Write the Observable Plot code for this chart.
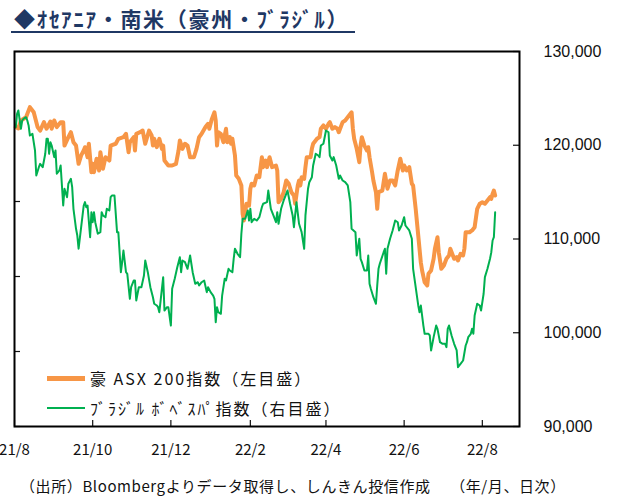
<!DOCTYPE html>
<html><head><meta charset="utf-8">
<script src="https://cdn.jsdelivr.net/npm/d3@7"></script>
<script src="https://cdn.jsdelivr.net/npm/@observablehq/plot@0.6"></script>
<style>
body{margin:0;background:#fff;width:623px;height:497px;position:relative;overflow:hidden;font-family:"Noto Sans CJK JP",sans-serif;}
#title{position:absolute;left:11px;top:5px;font-size:21px;font-weight:bold;color:#1f3864;border-bottom:2px solid #1f3864;padding-left:3px;padding-right:6px;line-height:26px;letter-spacing:1.7px;white-space:nowrap;}
#chart{position:absolute;left:0;top:35px;}
#legend{position:absolute;left:47px;top:363px;font-size:16px;color:#111;white-space:nowrap;letter-spacing:2px;}
.row{display:flex;align-items:center;height:30px;}
.sw{width:38px;margin-right:5px;}
#caption{position:absolute;left:20px;top:477px;font-size:15px;line-height:18px;color:#111;white-space:pre;letter-spacing:0.6px;}
</style>
</head><body>
<div id="title">◆ｵｾｱﾆｱ・南米（豪州・ﾌﾞﾗｼﾞﾙ）</div>
<div id="chart"></div>
<div id="legend">
  <div class="row"><div class="sw" style="border-top:5px solid #F79646"></div><span>豪&nbsp;ASX 200指数（左目盛）</span></div>
  <div class="row"><div class="sw" style="border-top:2px solid #00B050"></div><span>ﾌﾞﾗｼﾞﾙ&nbsp;ﾎﾞﾍﾞｽﾊﾟ指数（右目盛）</span></div>
</div>
<div id="caption">（出所）Bloombergよりデータ取得し、しんきん投信作成　 （年/月、日次）</div>
<script>
const asxDates = ["2021-08-02","2021-08-04","2021-08-06","2021-08-10","2021-08-13","2021-08-16","2021-08-19","2021-08-21","2021-08-24","2021-08-26","2021-08-29","2021-08-30","2021-09-01","2021-09-03","2021-09-06","2021-09-08","2021-09-09","2021-09-12","2021-09-14","2021-09-16","2021-09-18","2021-09-20","2021-09-22","2021-09-24","2021-09-25","2021-09-27","2021-09-28","2021-09-30","2021-10-01","2021-10-02","2021-10-04","2021-10-06","2021-10-07","2021-10-09","2021-10-11","2021-10-14","2021-10-15","2021-10-19","2021-10-21","2021-10-25","2021-10-27","2021-10-29","2021-10-30","2021-11-02","2021-11-03","2021-11-04","2021-11-07","2021-11-09","2021-11-11","2021-11-14","2021-11-16","2021-11-17","2021-11-18","2021-11-20","2021-11-22","2021-11-24","2021-11-25","2021-11-26","2021-11-29","2021-12-02","2021-12-05","2021-12-07","2021-12-08","2021-12-10","2021-12-12","2021-12-14","2021-12-16","2021-12-19","2021-12-21","2021-12-23","2021-12-25","2021-12-28","2021-12-30","2021-12-31","2022-01-02","2022-01-04","2022-01-05","2022-01-06","2022-01-07","2022-01-09","2022-01-11","2022-01-13","2022-01-14","2022-01-16","2022-01-17","2022-01-18","2022-01-20","2022-01-21","2022-01-23","2022-01-25","2022-01-26","2022-01-27","2022-01-29","2022-01-31","2022-02-01","2022-02-02","2022-02-04","2022-02-06","2022-02-08","2022-02-10","2022-02-11","2022-02-13","2022-02-14","2022-02-16","2022-02-18","2022-02-21","2022-02-22","2022-02-23","2022-02-25","2022-02-27","2022-03-01","2022-03-03","2022-03-05","2022-03-07","2022-03-08","2022-03-10","2022-03-11","2022-03-12","2022-03-13","2022-03-15","2022-03-16","2022-03-17","2022-03-20","2022-03-21","2022-03-22","2022-03-25","2022-03-27","2022-03-28","2022-03-30","2022-04-01","2022-04-03","2022-04-04","2022-04-06","2022-04-08","2022-04-10","2022-04-11","2022-04-14","2022-04-16","2022-04-19","2022-04-21","2022-04-22","2022-04-23","2022-04-25","2022-04-27","2022-04-28","2022-04-29","2022-05-01","2022-05-03","2022-05-04","2022-05-05","2022-05-07","2022-05-08","2022-05-10","2022-05-11","2022-05-12","2022-05-15","2022-05-17","2022-05-19","2022-05-21","2022-05-23","2022-05-25","2022-05-27","2022-05-29","2022-05-31","2022-06-01","2022-06-03","2022-06-05","2022-06-07","2022-06-08","2022-06-10","2022-06-12","2022-06-14","2022-06-15","2022-06-17","2022-06-19","2022-06-20","2022-06-22","2022-06-24","2022-06-25","2022-06-27","2022-06-28","2022-06-30","2022-07-02","2022-07-04","2022-07-06","2022-07-07","2022-07-10","2022-07-12","2022-07-13","2022-07-15","2022-07-17","2022-07-18","2022-07-19","2022-07-22","2022-07-24","2022-07-26","2022-07-28","2022-07-30","2022-08-01","2022-08-03","2022-08-05","2022-08-07","2022-08-08","2022-08-09","2022-08-10","2022-08-11"];
const asxValues = [7496,7487,7540,7562,7629,7595,7496,7473,7529,7485,7533,7485,7540,7496,7529,7529,7373,7429,7462,7395,7373,7251,7307,7340,7362,7295,7385,7195,7251,7195,7285,7207,7329,7218,7295,7273,7373,7385,7418,7429,7451,7329,7395,7429,7340,7451,7462,7473,7385,7473,7440,7373,7418,7362,7418,7351,7373,7273,7240,7240,7251,7340,7407,7351,7385,7373,7295,7295,7351,7429,7451,7496,7518,7485,7551,7595,7540,7373,7462,7451,7395,7485,7395,7429,7385,7418,7307,7173,7151,7107,6918,6873,6985,6973,7085,7118,7107,7173,7162,7295,7229,7273,7229,7295,7229,7240,7207,6995,7018,7062,7140,7118,7062,7040,6985,7107,7140,7107,7162,7151,7229,7295,7295,7351,7385,7418,7429,7485,7507,7485,7518,7529,7485,7496,7485,7462,7529,7540,7573,7595,7485,7418,7351,7262,7373,7429,7373,7340,7362,7295,7195,7140,7062,6951,7062,7073,7185,7085,7140,7140,7107,7207,7285,7207,7240,7207,7229,7118,7107,6951,6773,6595,6540,6462,6440,6518,6540,6618,6685,6762,6662,6551,6573,6618,6640,6685,6618,6629,6607,6651,6640,6685,6795,6795,6807,6829,6951,6985,6995,6985,7007,7029,7018,7051,7073,7040];

const bvspDates = ["2021-08-02","2021-08-03","2021-08-04","2021-08-06","2021-08-07","2021-08-08","2021-08-10","2021-08-11","2021-08-12","2021-08-13","2021-08-15","2021-08-17","2021-08-18","2021-08-20","2021-08-21","2021-08-23","2021-08-25","2021-08-26","2021-08-27","2021-08-28","2021-08-29","2021-08-30","2021-09-01","2021-09-02","2021-09-03","2021-09-05","2021-09-06","2021-09-08","2021-09-09","2021-09-11","2021-09-12","2021-09-14","2021-09-15","2021-09-16","2021-09-18","2021-09-19","2021-09-20","2021-09-22","2021-09-24","2021-09-25","2021-09-26","2021-09-27","2021-09-29","2021-09-30","2021-10-01","2021-10-02","2021-10-03","2021-10-05","2021-10-07","2021-10-08","2021-10-09","2021-10-11","2021-10-12","2021-10-14","2021-10-15","2021-10-16","2021-10-18","2021-10-20","2021-10-21","2021-10-23","2021-10-24","2021-10-25","2021-10-27","2021-10-28","2021-10-30","2021-10-31","2021-11-02","2021-11-03","2021-11-04","2021-11-06","2021-11-08","2021-11-10","2021-11-11","2021-11-13","2021-11-15","2021-11-17","2021-11-18","2021-11-20","2021-11-21","2021-11-22","2021-11-24","2021-11-25","2021-11-26","2021-11-28","2021-11-29","2021-12-01","2021-12-02","2021-12-04","2021-12-06","2021-12-08","2021-12-09","2021-12-10","2021-12-12","2021-12-14","2021-12-15","2021-12-16","2021-12-18","2021-12-20","2021-12-22","2021-12-23","2021-12-24","2021-12-25","2021-12-27","2021-12-29","2021-12-30","2022-01-01","2022-01-03","2022-01-04","2022-01-05","2022-01-06","2022-01-07","2022-01-09","2022-01-10","2022-01-12","2022-01-13","2022-01-15","2022-01-16","2022-01-18","2022-01-19","2022-01-20","2022-01-22","2022-01-24","2022-01-25","2022-01-26","2022-01-28","2022-01-30","2022-01-31","2022-02-01","2022-02-02","2022-02-04","2022-02-06","2022-02-08","2022-02-10","2022-02-11","2022-02-14","2022-02-15","2022-02-17","2022-02-19","2022-02-21","2022-02-22","2022-02-23","2022-02-25","2022-02-27","2022-03-01","2022-03-02","2022-03-04","2022-03-06","2022-03-07","2022-03-09","2022-03-11","2022-03-13","2022-03-15","2022-03-16","2022-03-18","2022-03-19","2022-03-21","2022-03-22","2022-03-24","2022-03-26","2022-03-27","2022-03-28","2022-03-30","2022-03-31","2022-04-01","2022-04-03","2022-04-04","2022-04-06","2022-04-07","2022-04-09","2022-04-11","2022-04-12","2022-04-14","2022-04-16","2022-04-18","2022-04-20","2022-04-21","2022-04-24","2022-04-25","2022-04-27","2022-04-28","2022-04-29","2022-05-01","2022-05-03","2022-05-04","2022-05-05","2022-05-06","2022-05-08","2022-05-10","2022-05-11","2022-05-12","2022-05-13","2022-05-16","2022-05-17","2022-05-18","2022-05-19","2022-05-21","2022-05-23","2022-05-25","2022-05-27","2022-05-28","2022-05-30","2022-06-01","2022-06-02","2022-06-05","2022-06-07","2022-06-08","2022-06-10","2022-06-12","2022-06-13","2022-06-14","2022-06-16","2022-06-17","2022-06-20","2022-06-21","2022-06-22","2022-06-24","2022-06-26","2022-06-27","2022-06-29","2022-07-01","2022-07-03","2022-07-04","2022-07-05","2022-07-06","2022-07-08","2022-07-10","2022-07-12","2022-07-13","2022-07-15","2022-07-17","2022-07-19","2022-07-20","2022-07-21","2022-07-23","2022-07-24","2022-07-25","2022-07-26","2022-07-28","2022-07-30","2022-07-31","2022-08-02","2022-08-03","2022-08-05","2022-08-07","2022-08-08","2022-08-09","2022-08-10","2022-08-11"];
const bvspValues = [121930,123360,123710,121760,122640,122820,122990,122640,122110,121040,121220,119440,116770,117660,118020,117660,119090,120690,120690,119090,120330,119970,118730,119440,116960,117310,117840,113570,115360,114460,115890,116420,115530,113220,111090,110370,108960,111260,113570,113930,113390,113570,110190,112860,111790,112860,111790,110560,110730,112860,112510,112330,113220,113040,114460,114640,114640,110730,110730,106460,107530,108770,106460,106290,103620,104860,105570,105570,103440,104860,104860,106110,107710,106460,104860,103790,103090,102910,102730,102190,104690,105930,102370,102730,102730,100770,104690,105760,106990,108060,106460,107710,107530,106820,107530,108240,106460,105220,105390,105040,105220,105390,105570,104330,104860,104330,103970,103620,101130,102730,102190,102020,103970,105760,105570,106820,106640,106460,107890,108960,108420,108060,110560,112160,112160,113040,111970,113220,111790,112160,111970,112330,113390,113760,113930,115170,113220,112510,111790,112860,111620,113220,114110,114820,115170,113760,112510,111260,113930,111620,110730,108960,112510,115360,116060,116590,117840,119090,118910,118730,119970,120160,120860,121570,121390,118910,118370,118730,117840,116420,116770,116240,116060,115710,113930,111090,110730,108240,110020,107890,107530,106640,106640,108240,105220,104690,103790,103090,105040,106820,107360,108590,108960,106290,108960,110020,110910,111970,111790,110910,111440,112330,111440,110910,110020,106820,104860,102910,102190,102910,100770,99890,99890,99710,98110,99530,100770,100420,98990,98820,98820,98460,100420,100770,99710,98820,98110,96330,96690,97040,98640,98990,99530,99890,100420,99890,101840,103090,102910,102370,104160,105930,106820,107890,108590,109840,110190,112860];

const xTickDates = ["2021-08-01","2021-10-01","2021-12-01","2022-02-01","2022-04-01","2022-06-01","2022-08-01"];
const leftTicks = [5500,6000,6500,7000,7500,8000];
const rightTicks = [90000,100000,110000,120000,130000];

const toLeft = v => 5500 + (v - 90000) * 2500 / 40000;
const fromLeft = y => 90000 + (y - 5500) * 40000 / 2500;

const asx = asxDates.map((d, i) => ({date: new Date(d), value: asxValues[i]}));
const bvsp = bvspDates.map((d, i) => ({date: new Date(d), value: toLeft(bvspValues[i])}));
const xTicks = xTickDates.map(d => new Date(d));

const W = 623, H = 440, mL = 14, mR = 104, mT = 16, mB = 49;
const plotW = W - mL - mR, plotH = H - mT - mB;

const chart = Plot.plot({
  width: W, height: H,
  marginLeft: mL, marginRight: mR, marginTop: mT, marginBottom: mB,
  x: {type: "utc", domain: [new Date("2021-08-01"), new Date("2022-08-30")]},
  y: {domain: [5500, 8000]},
  style: {fontFamily: "'Noto Sans CJK JP', sans-serif", fontSize: "15px", color: "#111", background: "#fff", overflow: "visible"},
  marks: [
    Plot.ruleY(leftTicks, {insetRight: plotW - 6, stroke: "#111", strokeWidth: 1.2}),
    Plot.ruleY(rightTicks.map(toLeft), {insetLeft: plotW - 6, stroke: "#111", strokeWidth: 1.2}),
    Plot.ruleX(xTicks, {insetTop: plotH - 6, stroke: "#111", strokeWidth: 1.2}),
    Plot.line(asx, {x: "date", y: "value", stroke: "#F79646", strokeWidth: 4, strokeLinejoin: "round"}),
    Plot.line(bvsp, {x: "date", y: "value", stroke: "#00B050", strokeWidth: 2}),
    Plot.frame({stroke: "#000", strokeWidth: 2}),
    Plot.axisX(xTicks, {tickSize: 0, tickPadding: 18, fontSize: 15, label: null,
      tickFormat: d => `${String(d.getUTCFullYear()).slice(2)}/${d.getUTCMonth() + 1}`}),
    Plot.axisY(rightTicks.map(toLeft), {anchor: "right", tickSize: 0, tickPadding: 24, fontSize: 16, label: null,
      fontFamily: "'Liberation Sans', Arial, sans-serif",
      tickFormat: d => d3.format(",")(Math.round(fromLeft(d)))})
  ]
});
document.getElementById("chart").appendChild(chart);
</script>
</body></html>
